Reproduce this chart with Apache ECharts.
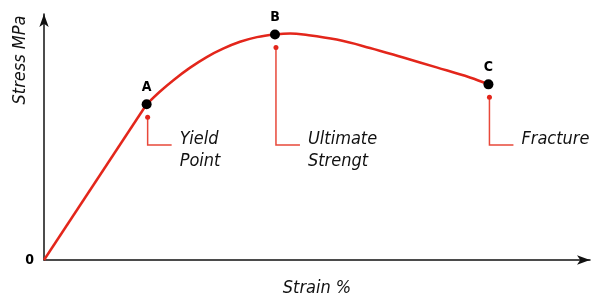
<!DOCTYPE html>
<html>
<head>
<meta charset="utf-8">
<script src="https://cdn.jsdelivr.net/npm/echarts@6/dist/echarts.min.js"></script>
<style>
  html, body { margin: 0; padding: 0; background: #fff; }
  #chart { width: 595px; height: 298px; }
</style>
</head>
<body>
<div id="chart"></div>
<script>
// elastic part: origin -> yield point
const elasticStrain = [0, 18.8];
const elasticStress = [0, 63.3];
// plastic part: yield -> fracture
const plasticStrain = [18.8, 21.2, 23.7, 26.7, 29.8, 32.8, 35.9, 39.0, 42.3, 45.1, 47.5, 53.6, 59.7, 65.8, 71.9, 78.0, 81.4];
const plasticStress = [63.3, 68.4, 73.1, 78.1, 82.5, 85.9, 88.7, 90.6, 91.7, 92.1, 91.7, 89.6, 86.2, 82.3, 78.3, 74.2, 71.4];

// key points and their notes
const keyNames = ['A', 'B', 'C'];
const keyStrain = [18.8, 42.3, 81.4];
const keyStress = [63.3, 91.7, 71.4];
const keyNotes = ['Yield\nPoint', 'Ultimate\nStrengt', 'Fracture'];
const noteLevel = 46.7; // stress level where the leader lines turn

const red = '#e3261b';
const leaderRed = '#e8483a';
const font = '"Liberation Sans Narrow", "DejaVu Sans Condensed", sans-serif';

const chart = echarts.init(document.getElementById('chart'));

// 数据打包
const zip = (xs, ys) => xs.map((x, i) => [x, ys[i]]);

const option = {
  animation: false,
  grid: { left: 44, right: 5, top: 14, bottom: 38, outerBoundsMode: 'none' },
  xAxis: {
    type: 'value',
    min: 0,
    max: 100,
    name: 'Strain %',
    nameLocation: 'middle',
    nameGap: 19,
    nameTextStyle: { fontFamily: font, fontStyle: 'italic', fontSize: 18, color: '#111' },
    axisLine: { lineStyle: { color: '#111', width: 1.5 }, symbol: ['none', 'arrow'], symbolSize: [7, 13] },
    axisTick: { show: false },
    axisLabel: { show: false },
    splitLine: { show: false }
  },
  yAxis: {
    type: 'value',
    min: 0,
    max: 100,
    interval: 20,
    axisLine: { show: true, lineStyle: { color: '#111', width: 1.5 }, symbol: ['none', 'arrow'], symbolSize: [7, 13] },
    axisTick: { show: false },
    axisLabel: {
      formatter: v => (v === 0 ? '0' : ''),
      fontFamily: font,
      fontWeight: 'bold',
      fontSize: 14,
      color: '#000',
      margin: 10,
      padding: [0, 0, 5, 0]
    },
    splitLine: { show: false }
  },
  graphic: [
    {
      type: 'text',
      x: 20,
      y: 60,
      rotation: Math.PI / 2,
      style: {
        text: 'Stress MPa',
        align: 'center',
        verticalAlign: 'middle',
        fontFamily: font,
        fontStyle: 'italic',
        fontSize: 18,
        fill: '#111'
      }
    }
  ],
  series: [
    {
      type: 'line',
      data: zip(elasticStrain, elasticStress),
      showSymbol: false,
      lineStyle: { color: red, width: 2.5 },
      z: 2
    },
    {
      type: 'line',
      data: zip(plasticStrain, plasticStress),
      smooth: 0.4,
      showSymbol: false,
      lineStyle: { color: red, width: 2.5 },
      z: 2
    },
    {
      // 引线和说明文字
      type: 'custom',
      data: keyStrain.map((x, i) => [x, keyStress[i], i]),
      renderItem: (params, api) => {
        const p = api.coord([api.value(0), api.value(1)]);
        const yLine = api.coord([0, noteLevel])[1];
        const x0 = p[0] + 1;
        const y0 = p[1] + 13;
        return {
          type: 'group',
          children: [
            {
              type: 'polyline',
              shape: { points: [[x0, y0], [x0, yLine], [x0 + 24, yLine]] },
              style: { stroke: leaderRed, lineWidth: 1.5, fill: null }
            },
            { type: 'circle', shape: { cx: x0, cy: y0, r: 2.5 }, style: { fill: red } },
            {
              type: 'text',
              x: x0 + 32,
              y: yLine - 17,
              style: {
                text: keyNotes[api.value(2)],
                fontFamily: font,
                fontStyle: 'italic',
                fontSize: 18,
                lineHeight: 22,
                fill: '#111',
                align: 'left',
                verticalAlign: 'top'
              }
            }
          ]
        };
      },
      z: 3
    },
    {
      type: 'scatter',
      data: keyStrain.map((x, i) => ({ value: [x, keyStress[i]], name: keyNames[i] })),
      symbolSize: 10,
      itemStyle: { color: '#000', opacity: 1 },
      label: {
        show: true,
        position: 'top',
        distance: 5,
        formatter: p => p.name,
        fontFamily: font,
        fontWeight: 'bold',
        fontSize: 14,
        color: '#000'
      },
      z: 4
    }
  ]
};

chart.setOption(option);
</script>
</body>
</html>
